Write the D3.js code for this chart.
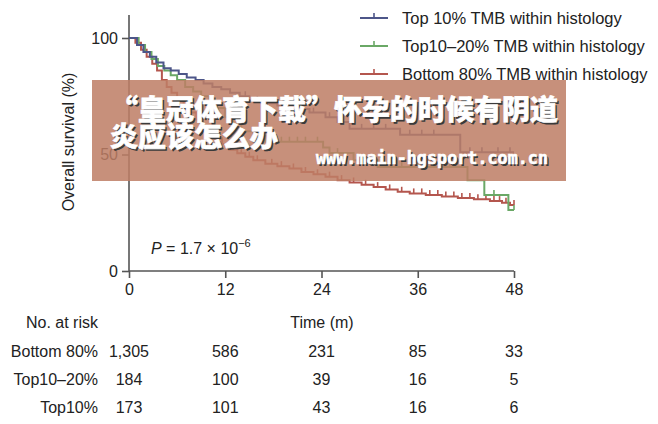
<!DOCTYPE html>
<html><head><meta charset="utf-8">
<script src="https://cdn.jsdelivr.net/npm/d3@7"></script>
<style>
body{margin:0;background:#fff;}
svg{display:block;}
text{font-family:"Liberation Sans",Arial,sans-serif;fill:#222;}
</style></head>
<body>
<svg id="c" width="658" height="424"></svg>
<script>
// ---- data ----
const seriesNames = ["Top 10% TMB within histology","Top10–20% TMB within histology","Bottom 80% TMB within histology"];
const seriesColors = ["#4d5689","#6aa866","#b4564e"];

const top10Times = [0,1,1.8,2.6,3.4,4.3,5.2,6.2,7.2,8.3,9.3,10.4,11.5,12.6,13.8,15,16.5,18.5,20.5,22.5,24.5,26,27.5,33.8,41.3,48];
const top10Surv  = [100,97,94,92,89.5,87,86,84.5,83,82,80.5,79,78,76.5,75,73,72,71,69.5,68,66,64,61,58.5,51,51];
const top10Cens  = [14.5,16,17.5,19,21,23,25,29,30.5,32,35,36.5,38,42.5,44,46,47.5];

const midTimes = [0,1.2,2,2.8,3.6,4.4,5.2,6,7,8,9,10,11,12,13,14,15.5,17,24.2,25,28,31,42.2,44.3,47.3,48];
const midSurv  = [100,97,94,91,88,86,84,82,79,77,75,73,70,66,63,60,58,55.5,53,50.6,47.5,44.6,39,32.6,26.2,26.2];
const midCens  = [16,18,19,20,21,22,23.5,26,29,32,34,36,38,40,45.5,48];

const botTimes = [0,0.8,1.5,2.2,2.9,3.5,4.1,4.7,5.3,6,6.8,7.6,8.4,9.2,10,10.8,11.6,12.5,13.5,14.5,15.5,17,18.5,20,21.5,23,24.5,26,27.5,29,30.5,32,33.5,35,37,39,41,43,45,46.5,47.5,48];
const botSurv  = [100,98,95,92,89,86,82,79,76.5,74,71,68,65,62,59.5,57,54.5,52,50.5,49,47.5,46,45,44,42.5,41.5,40.5,39,38,37,36,35,34,33.3,32.6,32,31.3,30.8,30,29.3,28.3,28.3];
const botCens  = [14,15,16,17.8,19,20.5,22,23.5,25,26.5,28,29.5,31,32.5,34,35.5,36.5,37.5,38.5,39.5,40.5,41.5,42.5,43.5,44.5,45.5,46.2,47,48];

const xTicks = [0,12,24,36,48];
const yTicks = [0,50,100];
const riskLabels = ["Bottom 80%","Top10–20%","Top10%"];
const riskBottom = ["1,305","586","231","85","33"];
const riskMid    = ["184","100","39","16","5"];
const riskTop    = ["173","101","43","16","6"];

const bannerLine1 = "“皇冠体育下载”怀孕的时候有阴道";
const bannerLine2 = "炎应该怎么办";
const bannerUrl = "www.main-hgsport.com.cn";

// ---- drawing ----
const svg = d3.select("#c");
const x = d3.scaleLinear().domain([0,48]).range([129,514]);
const y = d3.scaleLinear().domain([0,100]).range([271,38]);
const axisColor = "#555";

// axes
const gx = svg.append("g").attr("transform","translate(0,271)")
  .call(d3.axisBottom(x).tickValues(xTicks).tickSize(7).tickPadding(6));
const gy = svg.append("g").attr("transform","translate(129,0)")
  .call(d3.axisLeft(y).tickValues(yTicks).tickSize(7).tickPadding(4));
[gx,gy].forEach(g=>{
  g.select(".domain").remove();
  g.selectAll("line").attr("stroke",axisColor).attr("stroke-width",1.6);
  g.selectAll("text").style("font-size","16px").style("font-family","Liberation Sans, Arial, sans-serif").attr("fill","#222");
});
svg.append("line").attr("x1",129).attr("x2",129).attr("y1",15).attr("y2",271).attr("stroke",axisColor).attr("stroke-width",1.6);
svg.append("line").attr("x1",129).attr("x2",514).attr("y1",271).attr("y2",271).attr("stroke",axisColor).attr("stroke-width",1.6);

svg.append("text").attr("transform","translate(74,142) rotate(-90)").attr("text-anchor","middle")
  .style("font-size","16px").text("Overall survival (%)");

// curves
const series = [
  {t:top10Times,s:top10Surv,c:top10Cens},
  {t:midTimes,s:midSurv,c:midCens},
  {t:botTimes,s:botSurv,c:botCens}
];
const line = d3.line().x(d=>x(d[0])).y(d=>y(d[1])).curve(d3.curveStepAfter);
function survAt(sr,tt){let v=sr.s[0];for(let i=0;i<sr.t.length;i++){if(sr.t[i]<=tt)v=sr.s[i];}return v;}
[2,1,0].forEach(i=>{
  const sr = series[i];
  const pts = sr.t.map((t,j)=>[t,sr.s[j]]);
  svg.append("path").attr("d",line(pts)).attr("fill","none").attr("stroke",seriesColors[i]).attr("stroke-width",2);
  svg.append("g").selectAll("line").data(sr.c).join("line")
    .attr("x1",d=>x(d)).attr("x2",d=>x(d))
    .attr("y1",d=>y(survAt(sr,d))).attr("y2",d=>y(survAt(sr,d))-5)
    .attr("stroke",seriesColors[i]).attr("stroke-width",1.6);
});

// legend
seriesNames.forEach((n,i)=>{
  const ly = 18 + i*28;
  svg.append("line").attr("x1",360).attr("x2",388).attr("y1",ly).attr("y2",ly).attr("stroke",seriesColors[i]).attr("stroke-width",2);
  svg.append("line").attr("x1",374).attr("x2",374).attr("y1",ly).attr("y2",ly-5).attr("stroke",seriesColors[i]).attr("stroke-width",1.6);
  svg.append("text").attr("x",402).attr("y",ly).attr("dy","0.35em").style("font-size","16.5px").text(n);
});

// p-value
const pt = svg.append("text").attr("x",151).attr("y",254).style("font-size","16px");
pt.append("tspan").style("font-style","italic").text("P");
pt.append("tspan").text(" = 1.7 × 10");
pt.append("tspan").attr("dy",-7).style("font-size","11px").text("−6");

// risk table
svg.append("text").attr("x",322).attr("y",322).attr("dy","0.35em").attr("text-anchor","middle").style("font-size","16px").text("Time (m)");
svg.append("text").attr("x",98).attr("y",322).attr("dy","0.35em").attr("text-anchor","end").style("font-size","16px").text("No. at risk");
[riskBottom,riskMid,riskTop].forEach((row,i)=>{
  const ry = 351 + i*28;
  svg.append("text").attr("x",98).attr("y",ry).attr("dy","0.35em").attr("text-anchor","end").style("font-size","16px").text(riskLabels[i]);
  row.forEach((v,j)=>{
    svg.append("text").attr("x",x(xTicks[j])).attr("y",ry).attr("dy","0.35em").attr("text-anchor","middle").style("font-size","16px").text(v);
  });
});

// banner overlay
svg.append("rect").attr("x",92).attr("y",80).attr("width",474).attr("height",101)
  .attr("fill","rgb(190,126,101)").attr("fill-opacity",0.86);
function shadowText(txt,xx,yy,size,family,weight,len){
  [[1.8,1.8,"#3a3a3a"],[0,0,"#fff"]].forEach(([dx,dy,col])=>{
    const t = svg.append("text").attr("x",xx+dx).attr("y",yy+dy).attr("dominant-baseline","central")
      .style("font-size",size+"px").style("font-family",family).style("font-weight",weight)
      .style("fill",col).text(txt);
    if(col==="#fff") t.attr("stroke","#fff").attr("stroke-width",0.6);
    if(len) t.attr("textLength",len).attr("lengthAdjust","spacingAndGlyphs");
  });
}
shadowText(bannerLine1,110,108,28,"Noto Sans CJK SC","900",448);
shadowText(bannerLine2,110,135,28,"Noto Sans CJK SC","900",null);
shadowText(bannerUrl,316,158,17,"DejaVu Sans Mono","bold",232);
</script>
</body></html>
